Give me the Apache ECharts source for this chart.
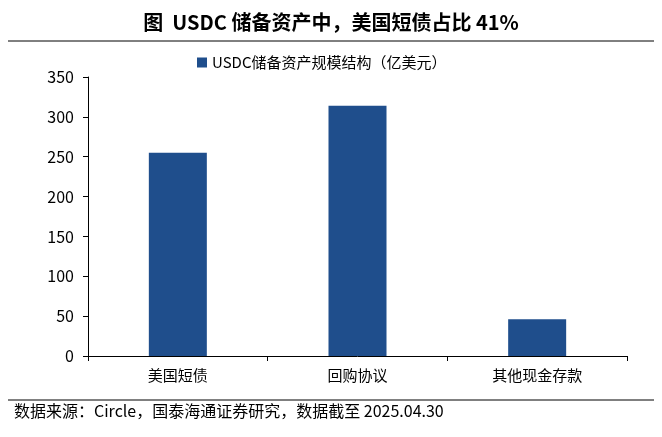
<!DOCTYPE html>
<html><head><meta charset="utf-8">
<script src="https://cdn.jsdelivr.net/npm/echarts@6/dist/echarts.min.js"></script>
<style>html,body{margin:0;padding:0;background:#fff}#c{width:662px;height:437px}</style>
</head><body><div id="c"></div>
<script>
const categories = ['美国短债', '回购协议', '其他现金存款'];
const values = [255, 314, 46];
const seriesName = 'USDC储备资产规模结构（亿美元）';
const titleText = '图  USDC 储备资产中，美国短债占比 41%';
const sourceText = '数据来源：Circle，国泰海通证券研究，数据截至 2025.04.30';
const chart = echarts.init(document.getElementById('c'));
const font = '"Noto Sans CJK SC", "Noto Sans", sans-serif';
chart.setOption({
  animation: false,
  title: { text: titleText, left: 'center', top: 7,
    textStyle: { fontFamily: font, fontSize: 20, fontWeight: 'bold', color: '#000' } },
  legend: { top: 50, left: 192, itemWidth: 10, itemHeight: 10, icon: 'rect',
    textStyle: { fontFamily: font, fontSize: 15, color: '#000' } },
  grid: { left: 88, right: 35, top: 77, bottom: 81 },
  xAxis: { type: 'category', data: categories,
    axisLine: { lineStyle: { color: '#000' } }, axisTick: { show: true, lineStyle: { color: '#000' } },
    axisLabel: { fontFamily: font, fontSize: 15, color: '#000', margin: 12 } },
  yAxis: { type: 'value', min: 0, max: 350, interval: 50,
    axisLine: { show: true, lineStyle: { color: '#000' } }, axisTick: { show: true, lineStyle: { color: '#000' } },
    splitLine: { show: false },
    axisLabel: { fontFamily: font, fontSize: 16, color: '#000', margin: 14 } },
  series: [{ name: seriesName, type: 'bar', data: values, barWidth: 58,
    itemStyle: { color: '#1F4E8C' } }],
  graphic: [
    { type: 'line', shape: { x1: 8, y1: 41, x2: 654, y2: 41 }, style: { stroke: '#000', lineWidth: 1 } },
    { type: 'line', shape: { x1: 8, y1: 400, x2: 654, y2: 400 }, style: { stroke: '#000', lineWidth: 1 } },
    { type: 'text', left: 14, top: 403, style: { text: sourceText, font: '16px ' + font, fill: '#000' } }
  ]
});
</script></body></html>
